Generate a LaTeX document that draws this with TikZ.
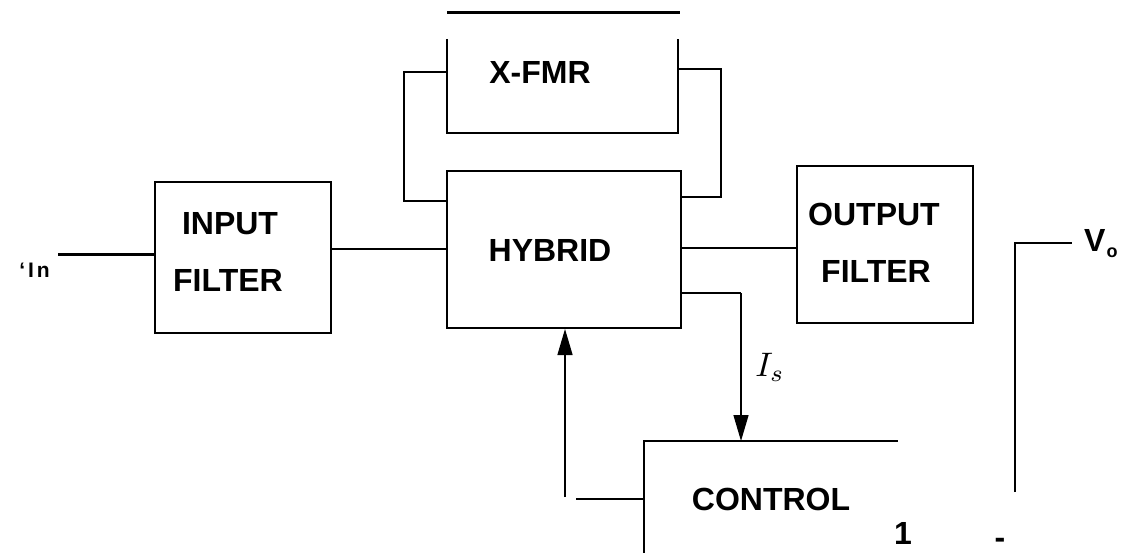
\documentclass[tikz,border=0pt]{standalone}
\usepackage{fontspec}
\setmainfont{Liberation Sans}
\usetikzlibrary{arrows.meta}
\begin{document}
\begin{tikzpicture}[x=1pt,y=-1pt,
  ln/.style={line width=2pt},
  thinln/.style={line width=1.4pt},
  thickln/.style={line width=3pt},
  arr/.style={line width=1.4pt,-{Triangle[length=26pt,width=15pt]}},
  boxnode/.style={draw,line width=2pt,minimum width=#1,inner sep=0pt},
  lbl/.style={font=\fontsize{32}{38}\selectfont\bfseries,inner sep=0pt},
  small/.style={font=\fontsize{21}{25}\selectfont\bfseries,inner sep=0pt}]
\useasboundingbox (0,0) rectangle (1121,553);
% boxes
\node[boxnode=176pt,minimum height=151pt] (inf) at (243,257.5) {};
\node[boxnode=234pt,minimum height=157pt] (hyb) at (564,249.5) {};
\node[boxnode=176pt,minimum height=157pt] (outf) at (885,244.5) {};
\node[minimum width=231pt,minimum height=94pt,inner sep=0pt] (xfmr) at (562.5,86) {};
\draw[ln] (xfmr.north west) -- (xfmr.south west) -- (xfmr.south east) -- (xfmr.north east);
\coordinate (xtl) at (447,13);
\coordinate (xtr) at (680,13);
\draw[thickln] (xtl) -- (xtr);
% control box (partial)
\coordinate (cbl) at (644,553);
\coordinate (ctl) at (644,441);
\coordinate (ctr) at (898,441);
\draw[ln] (cbl) -- (ctl) -- (ctr);
% texts
\node[lbl] (tin1) at (230,224) {INPUT};
\node[lbl] (tin2) at (228,280) {FILTER};
\node[lbl] (thyb) at (550,250) {HYBRID};
\node[lbl] (txf) at (540,72) {X-FMR};
\node[lbl] (tout1) at (874,214) {OUTPUT};
\node[lbl] (tout2) at (876,271) {FILTER};
\node[lbl] (tctl) at (771,499) {CONTROL};
\node[lbl] (tone) at (903,533) {1};
\node[lbl] (tdash) at (1000,543) {-};
\node[small,anchor=east] (tvin) at (50,270) {`\kern3pt I\kern3pt n};
\node[inner sep=0pt,scale=3.4] (tis) at (770,367) {$I_s$};
\node[lbl,anchor=west] (tvo) at (1084,244) {V\kern1pt\raisebox{-0.35ex}{\fontsize{18}{20}\selectfont o}};
% connectors
\coordinate (vin) at (58,255);
\draw[thickln] (vin) -- (vin -| inf.west);
\draw[ln] (hyb.west -| inf.east) -- (hyb.west);
\draw[ln] (hyb.east |- 0,248) -- (outf.west |- 0,248);
\coordinate (lb1) at (404,72);
\coordinate (lb2) at (404,201);
\draw[thinln] (xfmr.west |- lb1) -- (lb1) -- (lb2) -- (lb2 -| hyb.west);
\coordinate (rb1) at (721,69);
\coordinate (rb2) at (721,197);
\draw[thinln] (xfmr.east |- rb1) -- (rb1) -- (rb2) -- (rb2 -| hyb.east);
\coordinate (is1) at (741,293);
\draw[thinln] (is1 -| hyb.east) -- (is1);
\draw[arr] (is1) -- (is1 |- ctl);
\coordinate (fb1) at (565,497);
\draw[arr] (fb1) -- (fb1 |- hyb.south);
\coordinate (fb2) at (576,499);
\draw[thinln] (fb2) -- (fb2 -| cbl);
\coordinate (vo1) at (1015,492);
\coordinate (vo2) at (1015,243);
\coordinate (vo3) at (1072,243);
\draw[ln] (vo1) -- (vo2) -- (vo3);
\end{tikzpicture}
\end{document}
